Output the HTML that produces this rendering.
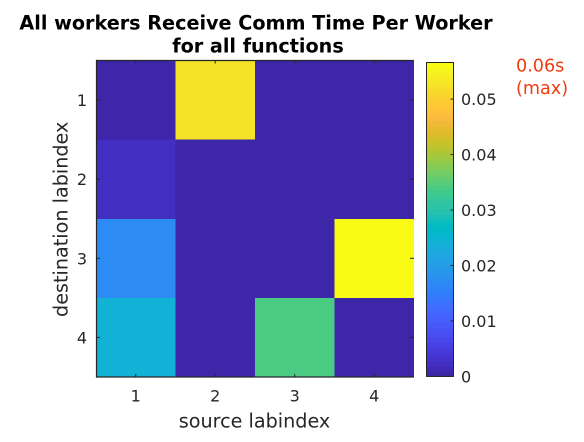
<!DOCTYPE html>
<html>
<head>
<meta charset="utf-8">
<title>All workers Receive Comm Time Per Worker</title>
<style>
html,body{margin:0;padding:0;background:#fff;width:584px;height:442px;overflow:hidden}
svg{display:block}
text{font-family:"DejaVu Sans",sans-serif;fill:#262626}
</style>
</head>
<body>
<svg id="chart" width="584" height="442" viewBox="0 0 584 442" xmlns="http://www.w3.org/2000/svg">
<text x="256" y="29.7" text-anchor="middle" font-size="19.2" font-weight="bold" style="fill:#000">All workers Receive Comm Time Per Worker</text>
<text x="258" y="52.3" text-anchor="middle" font-size="19.2" font-weight="bold" style="fill:#000">for all functions</text>
<text x="254.5" y="427.5" text-anchor="middle" font-size="19.2">source labindex</text>
<text transform="translate(67.5 219.3) rotate(-90)" text-anchor="middle" font-size="19.2">destination labindex</text>
<text x="516" y="71.5" font-size="17.6" style="fill:#f03c10">0.06s</text>
<text x="516" y="94" font-size="17.6" style="fill:#f03c10">(max)</text>
<g id="cells"></g>
<g id="colorbar"></g>
<g id="axes"></g>
</svg>
<script>
var sourceCategories = [1, 2, 3, 4];
var destinationCategories = [1, 2, 3, 4];
var row1Values = [0, 0.0527, 0, 0];
var row2Values = [0.0022, 0, 0, 0];
var row3Values = [0.0172, 0, 0, 0.0566];
var row4Values = [0.0244, 0, 0.0341, 0];
var colorbarMax = 0.0566;
var colorbarTicks = [0, 0.01, 0.02, 0.03, 0.04, 0.05];
var colorbarTickLabels = ['0', '0.01', '0.02', '0.03', '0.04', '0.05'];
var parula = [[.2422,.1504,.6603],[.2504,.165,.7076],[.2578,.1818,.7511],[.2647,.1978,.7952],[.2706,.2147,.8364],[.2751,.2342,.871],[.2783,.2559,.8991],[.2803,.2782,.9221],[.2813,.3006,.9414],[.281,.3228,.9579],[.2795,.3447,.9717],[.276,.3667,.9829],[.2699,.3892,.9906],[.2602,.4123,.9952],[.244,.4358,.9988],[.2206,.4603,.9973],[.1963,.4847,.9892],[.1834,.5074,.9798],[.1786,.5289,.9682],[.1764,.5499,.952],[.1687,.5703,.9359],[.154,.5902,.9218],[.146,.6091,.9079],[.138,.6276,.8973],[.1248,.6459,.8883],[.1113,.6635,.8763],[.0952,.6798,.8598],[.0689,.6948,.8394],[.0297,.7082,.8163],[.0036,.7203,.7917],[.0067,.7312,.766],[.0433,.7411,.7394],[.0964,.75,.712],[.1408,.7584,.6842],[.1717,.767,.6554],[.1938,.7758,.6251],[.2161,.7843,.5923],[.247,.7918,.5567],[.2906,.7973,.5188],[.3406,.8008,.4789],[.3909,.8029,.4354],[.4456,.8024,.3909],[.5044,.7993,.348],[.5616,.7942,.3045],[.6174,.7876,.2612],[.672,.7793,.2227],[.7242,.7698,.191],[.7738,.7598,.1646],[.8203,.7498,.1535],[.8634,.7406,.1596],[.9035,.733,.1774],[.9393,.7288,.21],[.9728,.7298,.2394],[.9956,.7434,.2371],[.997,.7659,.2199],[.9952,.7893,.2028],[.9892,.8136,.1885],[.9786,.8386,.1766],[.9676,.8639,.1643],[.961,.889,.1537],[.9597,.9135,.1423],[.9628,.9373,.1265],[.9691,.9606,.1064],[.9769,.9839,.0805]];

var NS = 'http://www.w3.org/2000/svg';
var matrix = [row1Values, row2Values, row3Values, row4Values];
var plot = {left: 96, right: 414, top: 60.5, bottom: 377};
var bar = {left: 426.5, right: 453.5, top: 62.5, bottom: 376.4};
var INK = '#262626';

function make(parent, tag, attrs) {
  var el = document.createElementNS(NS, tag);
  for (var k in attrs) el.setAttribute(k, attrs[k]);
  parent.appendChild(el);
  return el;
}
function xEdge(i) { return plot.left + (plot.right - plot.left) * i / sourceCategories.length; }
function yEdge(i) { return plot.top + (plot.bottom - plot.top) * i / destinationCategories.length; }
function xCenter(i) { return (xEdge(i) + xEdge(i + 1)) / 2; }
function yCenter(i) { return (yEdge(i) + yEdge(i + 1)) / 2; }
function barY(v) { return bar.bottom - (bar.bottom - bar.top) * v / colorbarMax; }
function colorFor(v) {
  var idx = Math.min(parula.length - 1, Math.max(0, Math.floor(v / colorbarMax * parula.length)));
  var c = parula[idx];
  return 'rgb(' + Math.round(c[0] * 255) + ',' + Math.round(c[1] * 255) + ',' + Math.round(c[2] * 255) + ')';
}

var cellsG = document.getElementById('cells');
matrix.forEach(function (row, r) {
  row.forEach(function (value, c) {
    var cell = make(cellsG, 'rect', {x: xEdge(c), y: yEdge(r), width: xEdge(c + 1) - xEdge(c), height: yEdge(r + 1) - yEdge(r), fill: colorFor(value), 'shape-rendering': 'crispEdges'});
    
    
  });
});

var barG = document.getElementById('colorbar');
parula.forEach(function (c, i) {
  var v0 = colorbarMax * i / parula.length;
  var v1 = colorbarMax * (i + 1) / parula.length;
  var band = make(barG, 'rect', {x: bar.left, y: barY(v1), width: bar.right - bar.left, height: barY(v0) - barY(v1) + 0.5, fill: colorFor((v0 + v1) / 2)});
  
  
});
var barFrame = make(barG, 'rect', {x: bar.left, y: bar.top, width: bar.right - bar.left, height: bar.bottom - bar.top, fill: 'none', stroke: INK, 'stroke-width': 1});


colorbarTicks.forEach(function (v, i) {
  var y = barY(v);
  if (v > 0) {
    var t1 = make(barG, 'line', {x1: bar.right - 3, x2: bar.right, y1: y, y2: y, stroke: INK, 'stroke-width': 1});
    
    
  }
  var label = make(barG, 'text', {x: 461, y: y + 6, 'font-size': 16});
  label.textContent = colorbarTickLabels[i];
  
  
});

var axesG = document.getElementById('axes');
var frameLeft = make(axesG, 'line', {x1: plot.left + 0.5, x2: plot.left + 0.5, y1: plot.top - 0.6, y2: plot.bottom + 0.6, stroke: INK, 'stroke-width': 1.2});


var frameTop = make(axesG, 'line', {x1: plot.left, x2: plot.right, y1: plot.top, y2: plot.top, stroke: INK, 'stroke-width': 1.2});


var frameBottom = make(axesG, 'line', {x1: plot.left, x2: plot.right, y1: plot.bottom, y2: plot.bottom, stroke: INK, 'stroke-width': 1.2});


sourceCategories.forEach(function (cat, i) {
  var x = xCenter(i);
  var b = make(axesG, 'line', {x1: x, x2: x, y1: plot.bottom, y2: plot.bottom - 3, stroke: INK, 'stroke-width': 1});
  
  
  var t = make(axesG, 'line', {x1: x, x2: x, y1: plot.top, y2: plot.top + 3, stroke: INK, 'stroke-width': 1});
  
  
  var label = make(axesG, 'text', {x: x, y: 401.5, 'text-anchor': 'middle', 'font-size': 16});
  label.textContent = cat;
  
  
});
destinationCategories.forEach(function (cat, i) {
  var y = yCenter(i);
  var l = make(axesG, 'line', {x1: plot.left, x2: plot.left + 4, y1: y, y2: y, stroke: INK, 'stroke-width': 1});
  
  
  var r = make(axesG, 'line', {x1: plot.right, x2: plot.right - 4, y1: y, y2: y, stroke: INK, 'stroke-width': 1});
  
  
  var label = make(axesG, 'text', {x: 87, y: y + 6, 'text-anchor': 'end', 'font-size': 16});
  label.textContent = cat;
  
  
});
</script>
</body>
</html>
